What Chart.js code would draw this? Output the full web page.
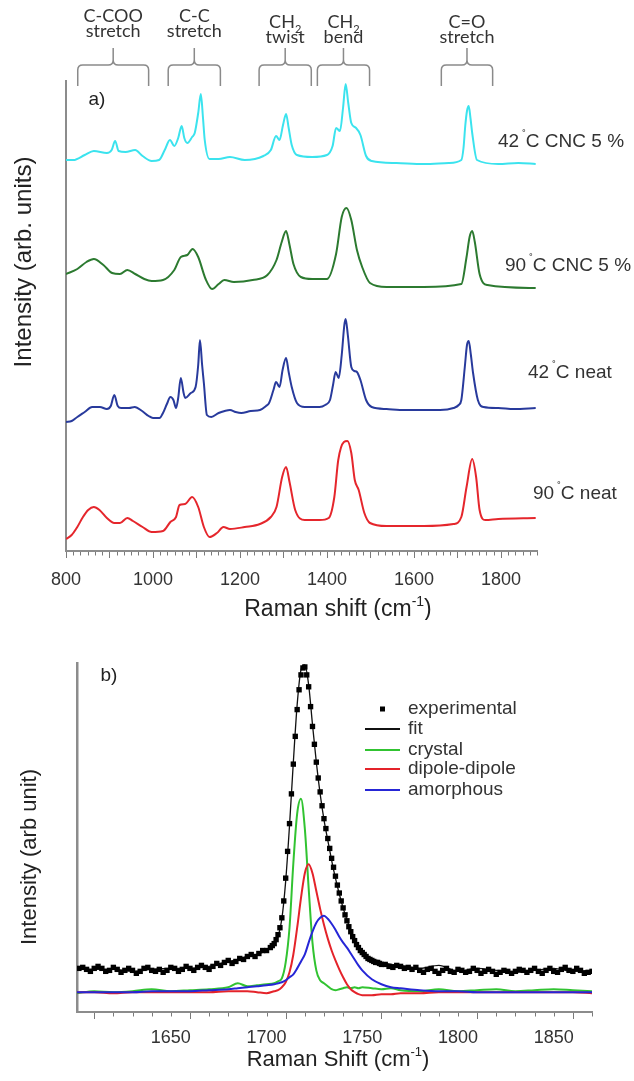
<!DOCTYPE html>
<html>
<head>
<meta charset="utf-8">
<script src="https://cdn.jsdelivr.net/npm/chart.js@4.4.0/dist/chart.umd.min.js"></script>
<style>
  html, body { margin: 0; padding: 0; background: #fff; }
  #wrap { position: relative; width: 634px; height: 1081px; overflow: hidden; }
  #chartA { position: absolute; left: 0; top: 0; }
  #chartB { position: absolute; left: 0; top: 620px; }
</style>
</head>
<body>
<div id="wrap">
  <canvas id="chartA" width="634" height="620"></canvas>
  <canvas id="chartB" width="634" height="461"></canvas>
</div>
<script>
// ---- panel a: stacked Raman spectra (intensity relative to each baseline) ----
const shiftTicksA = [800, 1000, 1200, 1400, 1600, 1800];

const cyanShift = [800, 817, 843, 864, 894, 905, 913, 921, 937, 959, 976, 997, 1014, 1027, 1039, 1049, 1058, 1066, 1072, 1079,
  1090, 1096, 1104, 1110, 1115, 1119, 1130, 1151, 1177, 1211, 1254, 1271, 1283, 1291, 1299, 1306, 1312, 1319, 1331, 1366,
  1400, 1413, 1421, 1430, 1437, 1443, 1449, 1456, 1467, 1477, 1490, 1503, 1560, 1623, 1680, 1709, 1714, 1718, 1722, 1726,
  1730, 1734, 1745, 1794, 1840, 1880];
const cyanInt = [3, 3, 8, 12, 10, 13, 22, 12, 11, 13, 7, 2, 3, 13, 23, 17, 25, 37, 25, 20,
  26, 30, 50, 69, 45, 23, 4, 4, 6, 3, 7, 13, 27, 23, 38, 49, 35, 18, 8, 6,
  8, 17, 35, 32, 55, 79, 60, 40, 35, 28, 7, 2, 0, -1, 0, 3, 15, 37, 52, 57,
  45, 30, 3, -1, 0, -1];

const greenShift = [800, 826, 847, 864, 886, 906, 924, 941, 959, 980, 997, 1023, 1049, 1064, 1079, 1091, 1104, 1121, 1136, 1151,
  1164, 1186, 1229, 1263, 1284, 1296, 1306, 1314, 1323, 1340, 1366, 1400, 1421, 1434, 1445, 1456, 1469, 1481, 1499, 1537,
  1623, 1709, 1721, 1728, 1734, 1740, 1751, 1769, 1880];
const greenInt = [13, 18, 25, 28, 22, 14, 13, 17, 13, 8, 6, 7, 17, 30, 32, 38, 30, 8, -2, 3,
  7, 5, 7, 12, 27, 45, 56, 42, 23, 10, 8, 8, 33, 70, 79, 67, 37, 20, 4, 0,
  0, 3, 30, 50, 56, 45, 13, 2, -1];

const blueShift = [800, 813, 826, 843, 860, 878, 894, 903, 911, 919, 927, 945, 958, 975, 990, 1000, 1015, 1023, 1032, 1040,
  1047, 1053, 1058, 1064, 1070, 1074, 1087, 1098, 1104, 1108, 1113, 1117, 1124, 1134, 1151, 1165, 1177, 1190, 1203, 1225,
  1246, 1260, 1267, 1277, 1283, 1291, 1298, 1306, 1312, 1319, 1331, 1349, 1383, 1396, 1407, 1414, 1420, 1427, 1434, 1440,
  1443, 1448, 1456, 1463, 1469, 1477, 1490, 1503, 1537, 1580, 1623, 1660, 1691, 1703, 1709, 1717, 1722, 1726, 1731, 1736,
  1747, 1760, 1794, 1830, 1880];
const blueInt = [-12, -11, -7, -2, 3, 3, 1, 4, 15, 4, 2, 2, 3, -1, -6, -8, -8, -3, 6, 13,
  10, 2, 12, 32, 18, 12, 17, 23, 45, 70, 45, 27, -5, -7, -3, -1, 0, -2, -3, -1,
  0, 4, 7, 20, 28, 23, 40, 52, 38, 23, 7, 3, 3, 5, 10, 25, 38, 32, 55, 85,
  91, 75, 43, 39, 38, 30, 10, 3, 1, 0, 0, 0, 2, 5, 10, 43, 65, 69, 55, 37,
  10, 3, 2, 1, 2];

const redShift = [800, 813, 826, 839, 851, 864, 877, 894, 911, 924, 941, 954, 976, 997, 1023, 1040, 1053, 1061, 1074, 1090,
  1104, 1117, 1130, 1147, 1162, 1177, 1211, 1246, 1271, 1284, 1297, 1306, 1314, 1327, 1349, 1383, 1404, 1417, 1426, 1439,
  1447, 1456, 1464, 1473, 1486, 1499, 1537, 1623, 1691, 1709, 1721, 1734, 1743, 1751, 1764, 1794, 1880];
const redInt = [-13, -9, -1, 9, 16, 19, 16, 8, 3, 3, 8, 5, -1, -6, -5, 4, 9, 21, 22, 29,
  19, -1, -11, -7, -1, -3, -1, 2, 9, 19, 49, 59, 44, 16, 6, 6, 8, 29, 66, 84,
  85, 73, 46, 36, 13, 3, 0, 0, 2, 9, 39, 67, 49, 16, 6, 7, 8];

// vertical offset of each spectrum in the stack
const offsetsA = [388, 264, 141, 25];
const colorsA = ['#3be3ee', '#2c7a30', '#283a9c', '#e5262c'];
const tempsA = ['42', '90', '42', '90'];
const namesA = ['C CNC 5 %', 'C CNC 5 %', 'C neat', 'C neat'];

const bandNames = [['C-COO', 'stretch'], ['C-C', 'stretch'], ['CH2', 'twist'], ['CH2', 'bend'], ['C=O', 'stretch']];
const bandRanges = [[827, 990], [1035, 1155], [1244, 1364], [1378, 1498], [1663, 1781]];

// ---- panel b: C=O band fit ----
const shiftTicksB = [1650, 1700, 1750, 1800, 1850];

const expShift = [1602, 1604, 1606, 1608, 1610, 1612, 1614, 1616, 1618, 1620,
  1622, 1624, 1626, 1628, 1630, 1632, 1634, 1636, 1638, 1640,
  1642, 1644, 1646, 1648, 1650, 1652, 1654, 1656, 1658, 1660,
  1662, 1664, 1666, 1668, 1670, 1672, 1674, 1676, 1678, 1680,
  1682, 1684, 1686, 1688, 1690, 1692, 1694, 1696, 1698, 1700,
  1702, 1703, 1704, 1705, 1706, 1707, 1708, 1709, 1710, 1711,
  1712, 1713, 1714, 1715, 1716, 1717, 1718, 1719, 1720, 1721,
  1722, 1723, 1724, 1725, 1726, 1727, 1728, 1729, 1730, 1731,
  1732, 1733, 1734, 1735, 1736, 1737, 1738, 1739, 1740, 1741,
  1742, 1743, 1744, 1745, 1746, 1747, 1748, 1749, 1750, 1751,
  1752, 1753, 1754, 1755, 1756, 1757, 1758, 1759, 1760,
  1762, 1764, 1766, 1768, 1770, 1772, 1774, 1776, 1778, 1780,
  1782, 1784, 1786, 1788, 1790, 1792, 1794, 1796, 1798, 1800,
  1802, 1804, 1806, 1808, 1810, 1812, 1814, 1816, 1818, 1820,
  1822, 1824, 1826, 1828, 1830, 1832, 1834, 1836, 1838, 1840,
  1842, 1844, 1846, 1848, 1850, 1852, 1854, 1856, 1858, 1860,
  1862, 1864, 1866, 1868, 1870];
const expInt = [24, 25, 23, 21, 24, 26, 24, 21, 22, 25,
  23, 20, 22, 24, 22, 19, 21, 24, 25, 22,
  21, 23, 20, 22, 25, 24, 21, 23, 26, 24,
  22, 25, 27, 25, 23, 26, 29, 27, 30, 32,
  29, 31, 34, 33, 36, 38, 36, 39, 42, 42,
  45, 47, 49, 53, 58, 65, 75, 92, 115, 142,
  170, 200, 230, 258, 285, 305, 320, 327, 328, 320,
  308, 288, 268, 250, 232, 216, 202, 188, 175, 165,
  155, 145, 135, 126, 117, 108, 100, 92, 85, 78,
  72, 66, 61, 56, 52, 48, 45, 42, 40, 38,
  36, 34, 33, 32, 31, 30, 30, 29, 28,
  28, 26, 25, 27, 26, 24, 25, 23, 25, 22,
  20, 23, 24, 21, 19, 22, 24, 21, 20, 23,
  22, 20, 21, 24, 22, 19, 21, 23, 21, 18,
  20, 22, 21, 19, 21, 23, 22, 20, 22, 24,
  21, 19, 22, 24, 21, 20, 23, 25, 22, 21,
  24, 22, 19, 20, 21];

const compShift = [1601, 1610, 1620, 1630, 1640, 1650, 1660, 1670, 1680, 1685, 1690, 1695, 1700,
  1704, 1706, 1708, 1710, 1712, 1714, 1716, 1718, 1720, 1722, 1724, 1726, 1728, 1730, 1732, 1734,
  1736, 1738, 1740, 1742, 1744, 1746, 1748, 1750,
  1755, 1760, 1765, 1770, 1780, 1790, 1800, 1810, 1820, 1830, 1840, 1850, 1860, 1870];
const fitInt = [24, 23, 23, 21, 23, 24, 24, 26, 31, 33, 36, 38, 42,
  48, 56, 74, 112, 168, 232, 290, 325, 330, 310, 270, 232, 200, 174, 153, 133,
  115, 99, 85, 73, 62, 53, 46, 41,
  33, 30, 28, 27, 24, 27, 21, 24, 22, 20, 22, 24, 21, 22];
const crystalInt = [-1, 1, 0, 1, 3, 1, 2, 3, 5, 9, 6, 7, 8,
  9, 11, 14, 30, 65, 130, 180, 195, 165, 105, 50, 22, 12, 9, 6, 3,
  2, 3, 4, 5, 4, 5, 4, 5,
  4, 3, 4, 2, 1, 3, 1, 2, 3, 1, 2, 3, 2, 1];
const dipoleInt = [0, 0, -1, 0, 0, 0, 0, 0, 1, 1, 1, 0, -1,
  1, 2, 5, 10, 20, 38, 65, 95, 120, 129, 120, 102, 84, 68, 54, 42,
  32, 23, 15, 8, 3, 0, -2, -3,
  -3, -2, -2, -1, -1, 0, 0, 0, 0, 0, 0, 0, 0, -1];
const amorphInt = [0, 0, 0, 0, 1, 1, 1, 2, 3, 4, 5, 6, 7,
  8, 9, 10, 12, 15, 18, 24, 31, 38, 50, 61, 70, 75, 77, 74, 69,
  63, 56, 50, 45, 39, 33, 27, 22,
  13, 8, 5, 4, 2, 1, 1, 0, 0, 0, 0, 0, 0, 0];

const legendB = ['experimental', 'fit', 'crystal', 'dipole-dipole', 'amorphous'];
const colorsB = ['#000000', '#111111', '#31c331', '#e4232a', '#2626d6'];

const FONT = "'Liberation Sans', Arial, sans-serif";
Chart.defaults.font.family = FONT;

function xy(xs, ys, off) {
  return xs.map((x, i) => ({ x: x, y: ys[i] + (off || 0) }));
}

// draw text made of pieces, some raised or lowered
function richText(ctx, parts, x, y, size, family, align) {
  const small = Math.round(size * 0.6);
  let total = 0;
  parts.forEach(p => {
    ctx.font = (p.sup || p.sub ? small : size) + 'px ' + family;
    p.w = ctx.measureText(p.t).width;
    total += p.w;
  });
  let cx = align === 'center' ? x - total / 2 : x;
  ctx.textAlign = 'left';
  ctx.textBaseline = 'alphabetic';
  parts.forEach(p => {
    ctx.font = (p.sup || p.sub ? small : size) + 'px ' + family;
    let dy = 0;
    if (p.sup) dy = -size * 0.45;
    if (p.sub) dy = size * 0.25;
    ctx.fillText(p.t, cx, y + dy);
    cx += p.w;
  });
}

function drawBracket(ctx, x0, x1, yLine, yEnd, yNub) {
  const r = 5, xc = (x0 + x1) / 2;
  ctx.beginPath();
  ctx.moveTo(x0, yEnd);
  ctx.lineTo(x0, yLine + r);
  ctx.quadraticCurveTo(x0, yLine, x0 + r, yLine);
  ctx.lineTo(xc - r, yLine);
  ctx.quadraticCurveTo(xc, yLine, xc, yLine - r);
  ctx.lineTo(xc, yNub);
  ctx.moveTo(xc, yLine - r);
  ctx.quadraticCurveTo(xc, yLine, xc + r, yLine);
  ctx.lineTo(x1 - r, yLine);
  ctx.quadraticCurveTo(x1, yLine, x1, yLine + r);
  ctx.lineTo(x1, yEnd);
  ctx.stroke();
}

function drawTicks(ctx, scale, values, majorEvery, yAxis) {
  ctx.strokeStyle = '#7a7a7a';
  ctx.lineWidth = 1;
  values.forEach((v, k) => {
    const px = Math.round(scale.getPixelForValue(v)) + 0.5;
    const len = k % majorEvery === 0 ? 6 : 3.5;
    ctx.beginPath();
    ctx.moveTo(px, yAxis);
    ctx.lineTo(px, yAxis + len);
    ctx.stroke();
  });
}

// decorations for panel a
const decorA = {
  id: 'decorA',
  afterDraw(chart) {
    const ctx = chart.ctx;
    const xs = chart.scales.x;
    const area = chart.chartArea;
    ctx.save();

    // minor / major ticks every 100/6 cm-1
    const tickVals = [];
    for (let k = 0; k <= 65; k++) tickVals.push(800 + k * 100 / 6);
    drawTicks(ctx, xs, tickVals, 6, area.bottom + 1);

    // band brackets and their names
    ctx.strokeStyle = '#8a8a8a';
    ctx.lineWidth = 1.5;
    ctx.fillStyle = '#333';
    bandRanges.forEach((r, i) => {
      const x0 = xs.getPixelForValue(r[0]);
      const x1 = xs.getPixelForValue(r[1]);
      drawBracket(ctx, x0, x1, 65, 86, 48);
      const xc = (x0 + x1) / 2;
      const name = bandNames[i];
      const low = name[0] === 'CH2' || name[0] === 'C=O';
      const y1 = low ? 28 : 22;
      const y2 = low ? 43 : 37;
      if (name[0] === 'CH2') {
        richText(ctx, [{ t: 'CH' }, { t: '2', sub: true }], xc, y1, 18, 'Lato', 'center');
      } else {
        richText(ctx, [{ t: name[0] }], xc, y1, 18, 'Lato', 'center');
      }
      richText(ctx, [{ t: name[1] }], xc, y2, 18, 'Lato', 'center');
    });

    ctx.fillStyle = '#222';
    ctx.font = '19px ' + FONT;
    ctx.textAlign = 'center';
    ctx.textBaseline = 'middle';
    ctx.fillText('a)', 97, 100);

    // spectrum labels
    const labelPos = [[498, 147], [505, 271], [528, 378], [533, 499]];
    ctx.fillStyle = '#333';
    labelPos.forEach((p, i) => {
      richText(ctx, [{ t: tempsA[i] }, { t: ' \u02da', sup: true }, { t: namesA[i] }], p[0], p[1], 19, FONT, 'left');
    });

    // axis titles
    ctx.fillStyle = '#222';
    richText(ctx, [{ t: 'Raman shift (cm' }, { t: '-1', sup: true }, { t: ')' }], 338, 616, 23, FONT, 'center');
    ctx.translate(23, 262);
    ctx.rotate(-Math.PI / 2);
    richText(ctx, [{ t: 'Intensity (arb. units)' }], 0, 8, 24, FONT, 'center');
    ctx.restore();
  }
};

// decorations for panel b
const decorB = {
  id: 'decorB',
  afterDraw(chart) {
    const ctx = chart.ctx;
    const xs = chart.scales.x;
    const area = chart.chartArea;
    ctx.save();

    const tickVals = [];
    for (let v = 1610; v <= 1870; v += 10) tickVals.push(v);
    drawTicks(ctx, xs, tickVals, 5, area.bottom + 1);

    ctx.fillStyle = '#222';
    ctx.font = '19px ' + FONT;
    ctx.textAlign = 'center';
    ctx.textBaseline = 'middle';
    ctx.fillText('b)', 109, 56);

    // legend
    const rows = [89, 109, 130, 149, 170];
    legendB.forEach((name, i) => {
      const y = rows[i];
      if (i === 0) {
        ctx.fillStyle = colorsB[0];
        ctx.fillRect(380, y - 2.5, 5, 5);
      } else {
        ctx.strokeStyle = colorsB[i];
        ctx.lineWidth = 2;
        ctx.beginPath();
        ctx.moveTo(365, y);
        ctx.lineTo(400, y);
        ctx.stroke();
      }
      ctx.fillStyle = '#333';
      ctx.font = '19px ' + FONT;
      ctx.textAlign = 'left';
      ctx.textBaseline = 'middle';
      ctx.fillText(name, 408, y);
    });

    ctx.fillStyle = '#222';
    richText(ctx, [{ t: 'Raman Shift (cm' }, { t: '-1', sup: true }, { t: ')' }], 338, 446, 22, FONT, 'center');
    ctx.translate(28, 237);
    ctx.rotate(-Math.PI / 2);
    richText(ctx, [{ t: 'Intensity (arb unit)' }], 0, 8, 22, FONT, 'center');
    ctx.restore();
  }
};

const chartA = new Chart(document.getElementById('chartA'), {
  type: 'line',
  data: {
    datasets: [
      { label: '42 C CNC 5 %', data: xy(cyanShift, cyanInt, offsetsA[0]), borderColor: colorsA[0] },
      { label: '90 C CNC 5 %', data: xy(greenShift, greenInt, offsetsA[1]), borderColor: colorsA[1] },
      { label: '42 C neat', data: xy(blueShift, blueInt, offsetsA[2]), borderColor: colorsA[2] },
      { label: '90 C neat', data: xy(redShift, redInt, offsetsA[3]), borderColor: colorsA[3] }
    ]
  },
  options: {
    responsive: false,
    animation: false,
    layout: { padding: { top: 81, right: 97, left: 0, bottom: 0 } },
    elements: {
      point: { radius: 0 },
      line: { borderWidth: 2, cubicInterpolationMode: 'monotone' }
    },
    plugins: { legend: { display: false }, tooltip: { enabled: false } },
    scales: {
      x: {
        type: 'linear', min: 800, max: 1883,
        afterFit: s => { s.height = 69; },
        grid: { display: false, drawTicks: false },
        border: { color: '#8c8c8c', width: 2 },
        ticks: {
          stepSize: 200, includeBounds: false, padding: 18, maxRotation: 0,
          color: '#333', font: { size: 18 },
          callback: v => shiftTicksA.includes(v) ? String(v) : ''
        }
      },
      y: {
        min: 0, max: 470,
        afterFit: s => { s.width = 66; },
        grid: { display: false, drawTicks: false },
        border: { color: '#8c8c8c', width: 2 },
        ticks: { display: false }
      }
    }
  },
  plugins: [decorA]
});

const chartB = new Chart(document.getElementById('chartB'), {
  type: 'line',
  data: {
    datasets: [
      { label: legendB[0], data: xy(expShift, expInt), showLine: false, pointStyle: 'rect',
        pointRadius: 3.8, pointBackgroundColor: colorsB[0], pointBorderWidth: 0, borderColor: colorsB[0], order: 0 },
      { label: legendB[1], data: xy(compShift, fitInt), borderColor: colorsB[1], borderWidth: 1.3, order: 1 },
      { label: legendB[2], data: xy(compShift, crystalInt), borderColor: colorsB[2], order: 4 },
      { label: legendB[3], data: xy(compShift, dipoleInt), borderColor: colorsB[3], order: 3 },
      { label: legendB[4], data: xy(compShift, amorphInt), borderColor: colorsB[4], order: 2 }
    ]
  },
  options: {
    responsive: false,
    animation: false,
    layout: { padding: { top: 43, right: 42, left: 0, bottom: 0 } },
    elements: {
      point: { radius: 0 },
      line: { borderWidth: 2, cubicInterpolationMode: 'monotone' }
    },
    plugins: { legend: { display: false }, tooltip: { enabled: false } },
    scales: {
      x: {
        type: 'linear', min: 1601, max: 1870,
        afterFit: s => { s.height = 69; },
        grid: { display: false, drawTicks: false },
        border: { color: '#8c8c8c', width: 2 },
        ticks: {
          stepSize: 50, includeBounds: false, padding: 15, maxRotation: 0,
          color: '#333', font: { size: 18 },
          callback: v => shiftTicksB.includes(v) ? String(v) : ''
        }
      },
      y: {
        min: -20, max: 332,
        afterFit: s => { s.width = 77; },
        grid: { display: false, drawTicks: false },
        border: { color: '#8c8c8c', width: 2.5 },
        ticks: { display: false }
      }
    }
  },
  plugins: [decorB]
});
</script>
</body>
</html>
